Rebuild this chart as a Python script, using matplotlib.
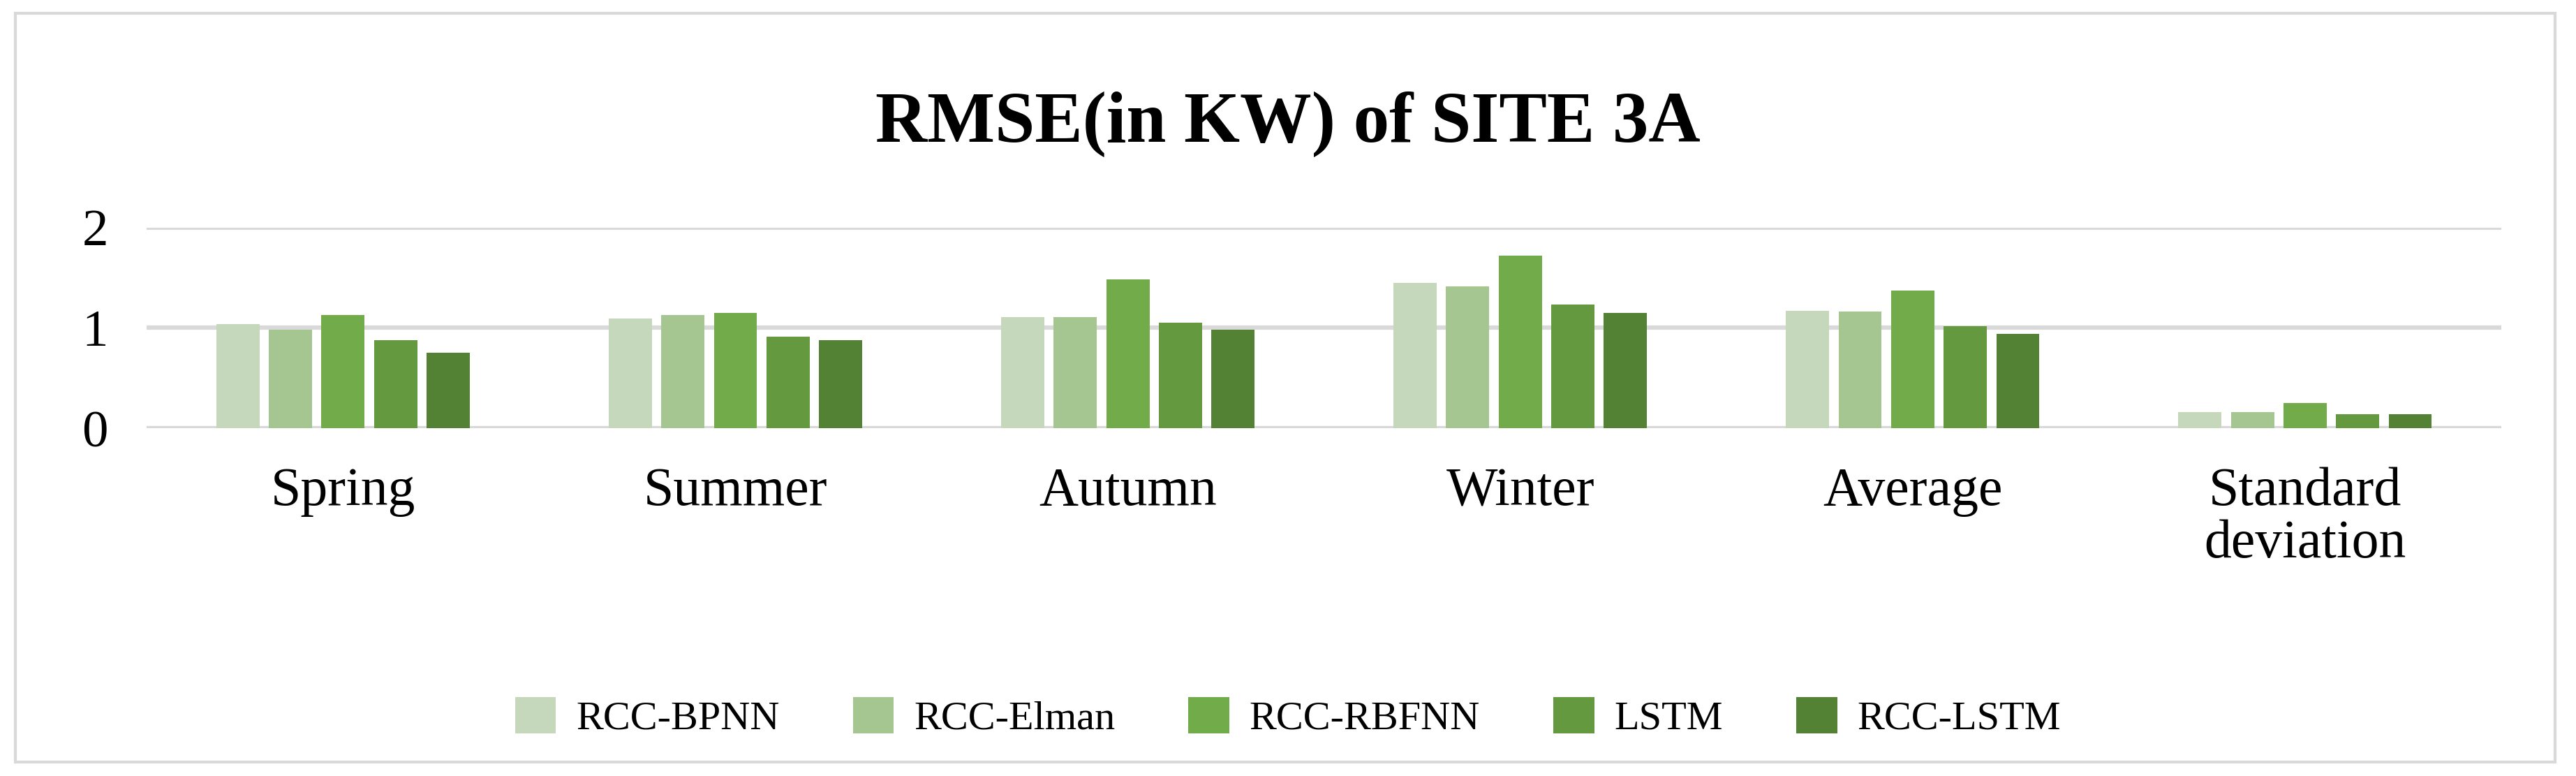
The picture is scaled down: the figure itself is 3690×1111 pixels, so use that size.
import numpy as np
import matplotlib.pyplot as plt
from matplotlib.patches import Rectangle

categories = ["Spring", "Summer", "Autumn", "Winter", "Average", "Standard\ndeviation"]
series = ["RCC-BPNN", "RCC-Elman", "RCC-RBFNN", "LSTM", "RCC-LSTM"]
bpnn = [1.04, 1.09, 1.11, 1.45, 1.17, 0.16]
elman = [0.98, 1.13, 1.11, 1.41, 1.16, 0.16]
rbfnn = [1.13, 1.15, 1.48, 1.72, 1.37, 0.25]
lstm = [0.88, 0.91, 1.05, 1.23, 1.02, 0.14]
rcc_lstm = [0.75, 0.88, 0.98, 1.15, 0.94, 0.14]
colors = ["#c5d8bb", "#a5c591", "#72ac4a", "#64993f", "#548235"]

plt.rcParams['font.family'] = ['Liberation Serif', 'DejaVu Serif']

fig = plt.figure(figsize=(36.9, 11.11), dpi=100)
ax = fig.add_axes([0.057, 0.448, 0.914, 0.259])

x = np.arange(len(categories))
w = 0.11
step = 0.134
for i, (vals, name) in enumerate(zip([bpnn, elman, rbfnn, lstm, rcc_lstm], series)):
    ax.bar(x + (i - 2) * step, vals, w, color=colors[i], label=name, zorder=3)

ax.set_xlim(-0.5, len(categories) - 0.5)
ax.set_ylim(0, 2)
ax.set_yticks([0, 1, 2])
ax.grid(axis='y', color='#d9d9d9', linewidth=4.5, zorder=0)
for s in ax.spines.values():
    s.set_visible(False)
ax.tick_params(axis='y', length=0, labelsize=54, pad=40)
ax.set_xticks(x)
ax.set_xticklabels(categories, linespacing=1.05)
ax.tick_params(axis='x', length=0, labelsize=56, pad=40)

fig.text(0.5, 0.84, "RMSE(in KW) of SITE 3A", ha='center', va='center',
         fontsize=74, fontweight='bold')

fig.legend(loc='center', bbox_to_anchor=(0.5, 0.076), ncol=5, frameon=False,
           fontsize=42, handlelength=1.0, handleheight=1.0, columnspacing=1.8,
           handletextpad=0.5)

fig.patches.append(Rectangle((0.006, 0.018), 0.986, 0.965, transform=fig.transFigure,
                             fill=False, edgecolor='#d9d9d9', linewidth=3))

fig.savefig("out.png", dpi=100)
